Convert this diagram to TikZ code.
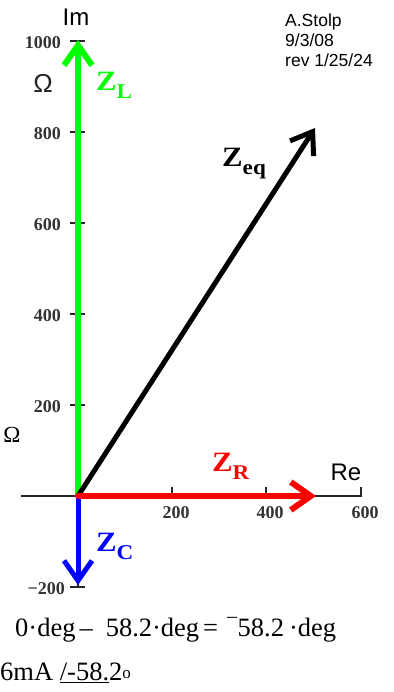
\documentclass[tikz,border=0pt]{standalone}
\usepackage{fontspec}
\setmainfont{Liberation Serif}
\newfontfamily\arialf{Liberation Sans}
\usetikzlibrary{arrows.meta}
\definecolor{vgreen}{RGB}{0,255,0}
\definecolor{vred}{RGB}{255,0,0}
\definecolor{vblue}{RGB}{0,0,255}
\begin{document}
\begin{tikzpicture}[x=1pt,y=-1pt,
  vec/.style={line width=#1, line cap=round, -{Straight Barb[length=20pt,width=28pt]}},
  axisline/.style={line width=1.5pt, black!85},
  tickline/.style={line width=1.5pt, black!85},
  ticklab/.style={inner sep=0pt, font=\bfseries\fontsize{18}{18}\selectfont, text=black!80},
  zlab/.style={inner sep=0pt, anchor=base west, font=\bfseries\fontsize{28}{28}\selectfont},
  sanslab/.style={inner sep=0pt, font=\arialf\fontsize{24}{24}\selectfont},
  notelab/.style={inner sep=0pt, anchor=base west, font=\arialf\fontsize{17.5}{17.5}\selectfont},
  eqlab/.style={inner sep=0pt, anchor=base west, font=\fontsize{26.5}{26.5}\selectfont}
]
\useasboundingbox (0,0) rectangle (393,692);
\newcommand{\zsub}[1]{\raisebox{-8pt}{\fontsize{21}{21}\selectfont #1}}
\newcommand{\zz}[1]{\scalebox{1.1}[1]{Z\zsub{#1}}}
% axes
\coordinate (O) at (78,496);
\coordinate (xl) at (21,496);
\coordinate (xr) at (361,496);
\coordinate (yt) at (78,41);
\coordinate (yb) at (78,587);
\draw[axisline] (xl) -- (xr);
\draw[axisline] (yt) -- (yb);
% y ticks
\foreach \v/\yy/\nm/\xe in {1000/41/a/61,800/132/b/61,600/223/c/61,400/314/d/61,200/405/e/61,{−200}/587/f/65}{
  \coordinate (ty\nm l) at (70,\yy);
  \coordinate (ty\nm r) at (85,\yy);
  \draw[tickline] (ty\nm l) -- (ty\nm r);
  \node[ticklab, anchor=east] (yl\nm) at (\xe,\yy+1.5) {\v};
}
% x ticks
\foreach \v/\xx/\nm in {200/172/a,400/266/b,600/361/c}{
  \coordinate (tx\nm t) at (\xx,487);
  \coordinate (tx\nm b) at (\xx,497);
  \draw[tickline] (tx\nm t) -- (tx\nm b);
  \node[ticklab] (xlab\nm) at (\xx+4,512.5) {\v};
}
% vectors
\coordinate (L) at (78,40);
\coordinate (C) at (78,585);
\coordinate (R) at (316,496);
\coordinate (E) at (315,128);
\draw[vec=6pt, vgreen] (O) -- (L);
\draw[vec=5pt, vblue] (O) -- (C);
\draw[vec=5pt, black] (O) -- (E);
\draw[vec=6pt, vred] (O) -- (R);
% labels
\node[zlab, text=vgreen] (zl) at (96,91) {\zz{L}};
\node[zlab, text=black] (zeq) at (222,167) {\zz{eq}};
\node[zlab, text=vred] (zr) at (212,471) {\zz{R}};
\node[zlab, text=vblue] (zc) at (96,551) {\zz{C}};
\node[sanslab, anchor=base] (im) at (76,26) {Im};
\node[sanslab, anchor=base] (re) at (346,480) {Re};
\node[inner sep=0pt, font=\arialf\fontsize{26}{26}\selectfont, text=black!85] (om1) at (43,83) {Ω};
\node[inner sep=0pt, font=\fontsize{23}{23}\selectfont] (om2) at (12,435) {Ω};
\node[notelab] (n1) at (285,27) {A.Stolp};
\node[notelab] (n2) at (285,47) {9/3/08};
\node[notelab] (n3) at (285,67) {rev 1/25/24};
\node[eqlab] (eq1) at (15,636) {0·deg\hspace*{4pt}–\hspace*{13pt}58.2·deg\hspace*{4pt}=\hspace*{9pt}\raisebox{14pt}{\fontsize{20}{20}\selectfont –}\hspace*{0.5pt}58.2\hspace*{5pt}·deg};
\node[eqlab] (eq2) at (0,680) {6mA \underline{/-58.}2\raisebox{2pt}{\fontsize{17}{17}\selectfont o}};
\end{tikzpicture}
\end{document}
